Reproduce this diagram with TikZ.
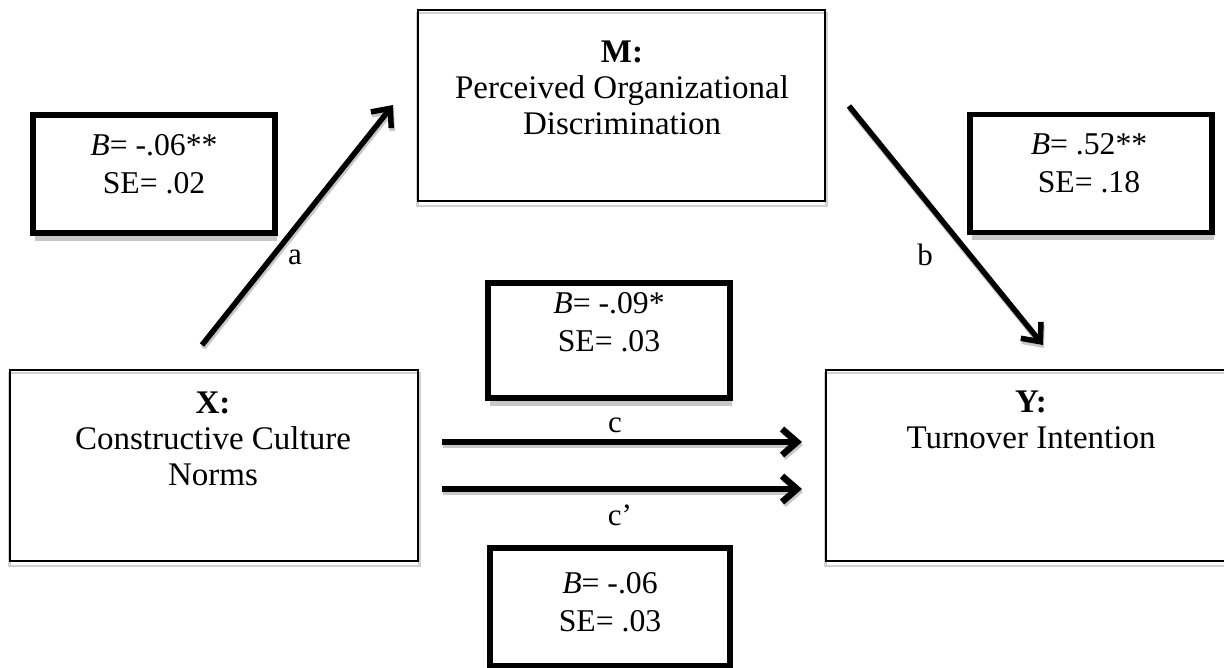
\documentclass[tikz,border=0pt]{standalone}
\usepackage{fontspec}
\setmainfont{Liberation Serif}
\usetikzlibrary{arrows.meta,shadows,backgrounds}
\begin{document}
\begin{tikzpicture}[x=1pt,y=-1pt,
  thinbox/.style={draw=black,line width=2pt,inner sep=0pt},
  thinshadow/.style={draw=black!18,line width=2.5pt},
  coefbox/.style={draw=black,line width=5.5pt,fill=white,inner sep=0pt,
    drop shadow={shadow xshift=1.5pt,shadow yshift=-8pt,fill=black!22,opacity=1}},
  boxtext/.style={anchor=north,inner sep=0pt,align=center,font=\fontsize{33}{36}\selectfont},
  coeftext/.style={anchor=north,inner sep=0pt,align=center,font=\fontsize{31.7}{38}\selectfont},
  pathlabel/.style={inner sep=0pt,font=\fontsize{31}{36}\selectfont},
  link/.style={line width=5.5pt,-{Straight Barb[length=15pt,width=26pt]}},
  linkshadow/.style={link,draw=black!22}
]
\useasboundingbox (0,0) rectangle (1224,668);
\clip (0,0) rectangle (1224,668);

% main variable boxes
\node[thinbox,minimum width=408pt,minimum height=191pt] (X) at (214,465.5) {};
\node[thinbox,minimum width=407pt,minimum height=191pt] (M) at (621.5,105.5) {};
\node[thinbox,minimum width=410pt,minimum height=191pt] (Y) at (1031,465.5) {};
\begin{pgfonlayer}{background}
  \foreach \b in {X,M,Y}{
    \draw[thinshadow] ([shift={(0.5pt,-4pt)}]\b.north west) rectangle ([shift={(0.5pt,-4pt)}]\b.south east);
  }
\end{pgfonlayer}
\node[boxtext] (Xt) at (213,392) {\textbf{X:}\\Constructive Culture\\Norms};
\node[boxtext] (Mt) at (622,41) {\textbf{M:}\\Perceived Organizational\\Discrimination};
\node[boxtext] (Yt) at (1031,391) {\textbf{Y:}\\Turnover Intention};

% coefficient boxes
\node[coefbox,minimum width=242pt,minimum height=118pt] (Ba) at (154,174) {};
\node[coeftext] (Bat) at (154,134.5) {\textit{B}= -.06**\\SE= .02};
\node[coefbox,minimum width=242pt,minimum height=118pt] (Bb) at (1091,173.5) {};
\node[coeftext] (Bbt) at (1089,133.5) {\textit{B}= .52**\\SE= .18};
\node[coefbox,minimum width=242pt,minimum height=115pt] (Bc) at (609,340.5) {};
\node[coeftext] (Bct) at (609,292.5) {\textit{B}= -.09*\\SE= .03};
\node[coefbox,minimum width=240pt,minimum height=118pt] (Bd) at (610,607) {};
\node[coeftext] (Bdt) at (610,572.5) {\textit{B}= -.06\\SE= .03};

% path endpoints
\coordinate (aS) at (202,345);
\coordinate (aE) at (393,105);
\coordinate (bS) at (849,106);
\coordinate (bE) at (1043,345);
\coordinate (cS) at (442,442);
\coordinate (cE) at (802,442);
\coordinate (dS) at (442,489);
\coordinate (dE) at (802,489);

\foreach \s/\e in {aS/aE,bS/bE,cS/cE,dS/dE}{
  \draw[linkshadow] ([shift={(1pt,-3pt)}]\s) -- ([shift={(1pt,-3pt)}]\e);
}
\draw[link] (aS) -- (aE);
\draw[link] (bS) -- (bE);
\draw[link,line width=6.5pt] (cS) -- (cE);
\draw[link,line width=6.5pt] (dS) -- (dE);

\node[pathlabel] (la) at (295,257) {a};
\node[pathlabel] (lb) at (925,255) {b};
\node[pathlabel] (lc) at (615,425) {c};
\node[pathlabel] (ld) at (620,515) {c’};
\end{tikzpicture}
\end{document}
